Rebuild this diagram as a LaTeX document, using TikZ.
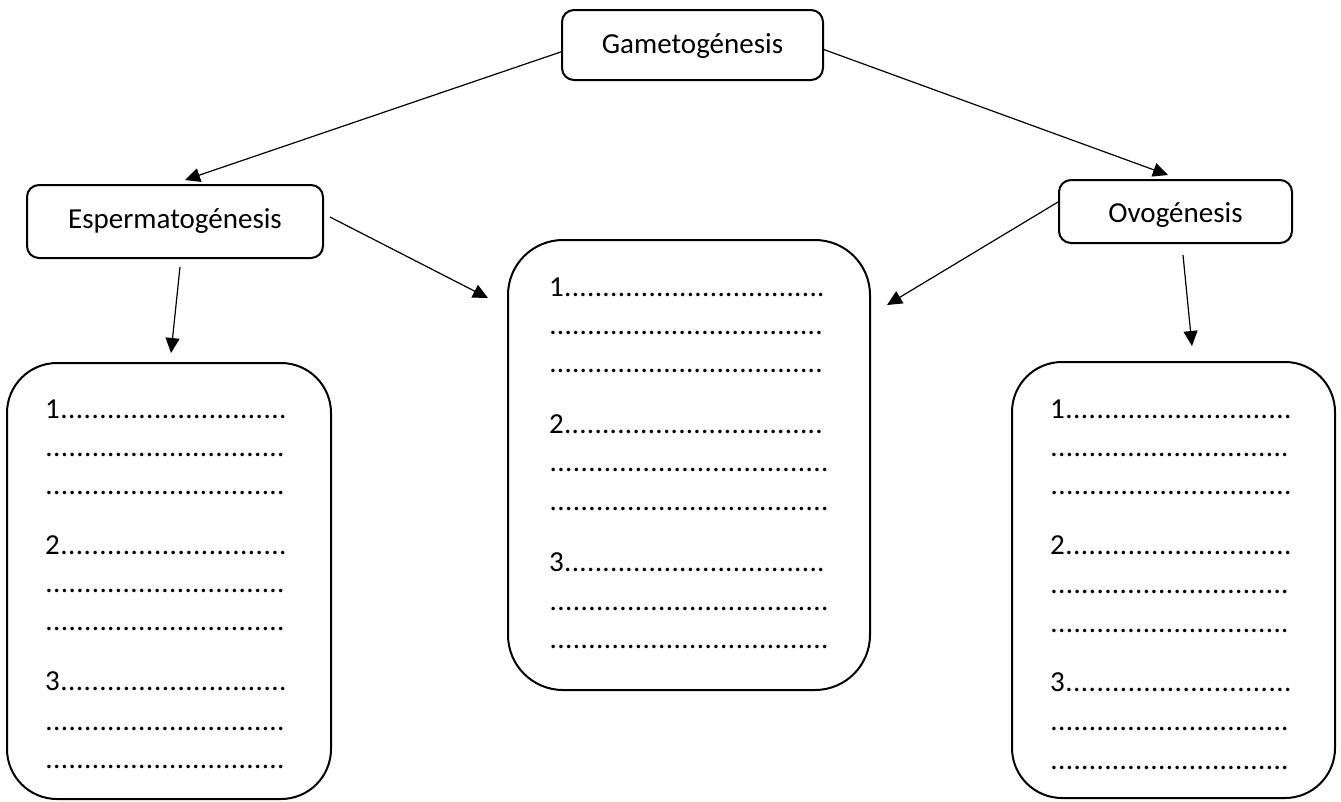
\documentclass[tikz,border=0pt]{standalone}
\usepackage{fontspec}
\setmainfont{Carlito}
\usetikzlibrary{arrows.meta}

% a numbered or blank answer line filled with dots up to a given width
\newcommand\dotrow[2]{\hbox to #2pt{#1\xleaders\hbox to 7.6pt{\hss.\hss}\hfill}}

\tikzset{
  titlebox/.style={draw, line width=2pt, rounded corners=12pt, inner sep=0pt,
                   text depth=0pt, font=\fontsize{29}{35}\selectfont},
  answerbox/.style={draw, line width=2pt, rounded corners=50pt, inner sep=0pt},
  answerline/.style={anchor=base west, inner sep=0pt, font=\fontsize{29}{35}\selectfont},
  arr/.style={line width=1.2pt, -{Triangle[length=15pt, width=14pt]}}
}

\begin{document}
\begin{tikzpicture}[x=1pt, y=-1pt]
  \useasboundingbox (0,0) rectangle (1341,801);

  % title boxes
  \node[titlebox, text height=16pt, minimum width=261pt, minimum height=70pt] (game) at (692.5,45) {Gametogénesis};
  \node[titlebox, text height=13pt, minimum width=296pt, minimum height=73pt] (esp) at (175,221.5) {Espermatogénesis};
  \node[titlebox, text height=22pt, minimum width=233pt, minimum height=63pt] (ovo) at (1175.5,211.5) {Ovogénesis};

  % answer boxes
  \node[answerbox, minimum width=324pt, minimum height=436pt] (boxL) at (169,581) {};
  \node[answerbox, minimum width=362pt, minimum height=450pt, rounded corners=55pt] (boxM) at (689,465) {};
  \node[answerbox, minimum width=323pt, minimum height=436pt] (boxR) at (1173.5,580) {};

  % answer lines: index/label/baseline/width
  \foreach \i/\lab/\yy/\w in {1/1/418/242, 2//456/240, 3//494/240,
                              4/2/554/242, 5//592/240, 6//630/240,
                              7/3/690/242, 8//730/240, 9//768/240}
    \node[answerline] (lineL\i) at (45,\yy) {\dotrow{\lab}{\w}};
  \foreach \i/\lab/\yy/\w in {1/1/296/276, 2//334/274, 3//372/274,
                              4/2/433/274, 5//471/280, 6//510/280,
                              7/3/571/276, 8//610/280, 9//648/280}
    \node[answerline] (lineM\i) at (549,\yy) {\dotrow{\lab}{\w}};
  \foreach \i/\lab/\yy/\w in {1/1/418/242, 2//456/239, 3//494/242,
                              4/2/554/242, 5//593/239, 6//632/239,
                              7/3/691/242, 8//730/239, 9//769/239}
    \node[answerline] (lineR\i) at (1050,\yy) {\dotrow{\lab}{\w}};

  % free ends of the connectors
  \coordinate (espOut)  at (330,217);
  \coordinate (espDown) at (180,267);
  \coordinate (ovoDown) at (1183,255);
  \coordinate (tipEsp)  at (185,180);
  \coordinate (tipOvo)  at (1168,175);
  \coordinate (tipML)   at (488,298);
  \coordinate (tipMR)   at (887,305);
  \coordinate (tipL)    at (171,353);
  \coordinate (tipR)    at (1192,346);

  % connectors
  \draw[arr] (game.183) -- (tipEsp);
  \draw[arr] (game.-2) -- (tipOvo);
  \draw[arr] (espOut) -- (tipML);
  \draw[arr] (espDown) -- (tipL);
  \draw[arr] (ovo.west |- 0,202) -- (tipMR);
  \draw[arr] (ovoDown) -- (tipR);
\end{tikzpicture}
\end{document}
